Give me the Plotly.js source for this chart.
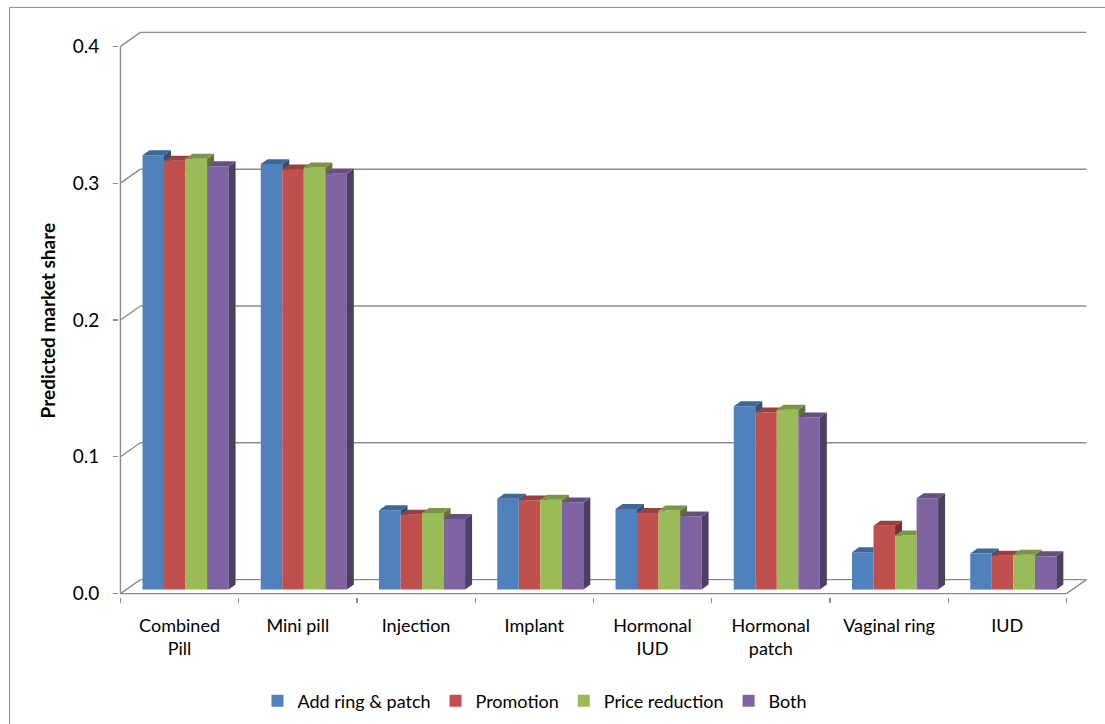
<!DOCTYPE html>
<html>
<head>
<meta charset="utf-8">
<script src="https://cdn.plot.ly/plotly-3.0.1.min.js"></script>
<style>
  html, body { margin: 0; padding: 0; background: #ffffff; }
  #chart { width: 1105px; height: 724px; }
</style>
</head>
<body>
<div id="chart"></div>
<script>
// Contraceptive methods and predicted market share under four scenarios
const categories = ['Combined<br>Pill', 'Mini pill', 'Injection', 'Implant', 'Hormonal<br>IUD', 'Hormonal<br>patch', 'Vaginal ring', 'IUD'];
const seriesNames = ['Add ring & patch', 'Promotion', 'Price reduction', 'Both'];
const addRingPatch   = [0.3175, 0.3110, 0.0580, 0.0664, 0.0589, 0.1340, 0.0273, 0.0263];
const promotion      = [0.3135, 0.3070, 0.0547, 0.0652, 0.0560, 0.1295, 0.0467, 0.0248];
const priceReduction = [0.3150, 0.3085, 0.0560, 0.0657, 0.0579, 0.1314, 0.0396, 0.0255];
const both           = [0.3095, 0.3040, 0.0516, 0.0637, 0.0535, 0.1258, 0.0667, 0.0243];
const yTicks = [0, 0.1, 0.2, 0.3, 0.4];
const yTickText = ['0.0', '0.1', '0.2', '0.3', '0.4'];

const seriesValues = [addRingPatch, promotion, priceReduction, both];
const frontColors = ['#4F81BD', '#C0504D', '#9BBB59', '#8064A2'];

// ---- page geometry (pixels) ----
const W = 1105, H = 724;
const PX_X = 118.33;          // pixels per category
const PX_Y = 1370;            // pixels per unit of market share
const X0PIX = 120, Y0PIX = 594; // front-left floor corner
const X_RANGE = [-0.012, 8.25];
const Y_RANGE = [-0.0025, 0.42];
const PL = X0PIX + X_RANGE[0] * PX_X;
const PW = (X_RANGE[1] - X_RANGE[0]) * PX_X;
const PB = Y0PIX - Y_RANGE[0] * PX_Y;
const PH = (Y_RANGE[1] - Y_RANGE[0]) * PX_Y;
const pxX = p => (p - PL) / PW;
const pxY = p => (PB - p) / PH;

// ---- oblique depth offsets, expressed in axis units ----
const wallDx = 20 / PX_X, wallDy = 14 / PX_Y;     // back wall
const barShift = 6 / PX_X, barBase = 4 / PX_Y;    // bar front plane
const depthDx = 7 / PX_X, depthDy = 5 / PX_Y;     // bar depth
const barWidth = 0.182;
const groupWidth = barWidth * seriesValues.length;
const nCat = categories.length;

function shade(hex, f) {
  const n = parseInt(hex.slice(1), 16);
  const r = Math.round(((n >> 16) & 255) * f);
  const g = Math.round(((n >> 8) & 255) * f);
  const b = Math.round((n & 255) * f);
  return 'rgb(' + r + ',' + g + ',' + b + ')';
}

// Sutherland-Hodgman clip of a polygon against one half-plane
function clipPoly(poly, inside, cross) {
  const out = [];
  for (let k = 0; k < poly.length; k++) {
    const a = poly[k], b = poly[(k + 1) % poly.length];
    const ia = inside(a), ib = inside(b);
    if (ia) out.push(a);
    if (ia !== ib) out.push(cross(a, b));
  }
  return out;
}
function clipXmax(poly, X) {
  return clipPoly(poly, p => p[0] <= X + 1e-9, (a, b) => {
    const t = (X - a[0]) / (b[0] - a[0]);
    return [X, a[1] + t * (b[1] - a[1])];
  });
}
function clipYmin(poly, Y) {
  return clipPoly(poly, p => p[1] >= Y - 1e-9, (a, b) => {
    const t = (Y - a[1]) / (b[1] - a[1]);
    return [a[0] + t * (b[0] - a[0]), Y];
  });
}
function area(poly) {
  let s = 0;
  for (let k = 0; k < poly.length; k++) {
    const a = poly[k], b = poly[(k + 1) % poly.length];
    s += a[0] * b[1] - b[0] * a[1];
  }
  return Math.abs(s / 2);
}
function appendPoly(acc, poly) {
  if (poly.length < 3 || area(poly) < 1e-7) return;
  poly.forEach(p => { acc.x.push(p[0]); acc.y.push(p[1]); });
  acc.x.push(poly[0][0]); acc.y.push(poly[0][1]);
  acc.x.push(null); acc.y.push(null);
}
// visible part of a face once the next bar's front face is placed over it
function appendVisible(acc, poly, R, nextTop) {
  if (nextTop === null) { appendPoly(acc, poly); return; }
  appendPoly(acc, clipXmax(poly, R));
  appendPoly(acc, clipYmin(poly, nextTop));
}

const barTraces = [], sideTraces = [], topTraces = [];
seriesValues.forEach((vals, s) => {
  const xs = [];
  const side = { x: [], y: [] }, top = { x: [], y: [] };
  vals.forEach((v, i) => {
    const xc = i + 0.5 + barShift - groupWidth / 2 + (s + 0.5) * barWidth;
    xs.push(xc);
    const L = xc - barWidth / 2, R = xc + barWidth / 2;
    const T = barBase + v;
    const nextTop = s < seriesValues.length - 1 ? barBase + seriesValues[s + 1][i] : null;
    const topPoly = [[L, T], [R, T], [R + depthDx, T + depthDy], [L + depthDx, T + depthDy]];
    const sidePoly = [[R, barBase], [R, T], [R + depthDx, T + depthDy], [R + depthDx, barBase + depthDy]];
    appendVisible(top, topPoly, R, nextTop);
    appendVisible(side, sidePoly, R, nextTop);
  });
  barTraces.push({
    type: 'bar', name: seriesNames[s], x: xs, y: vals, base: barBase, width: barWidth,
    marker: { color: frontColors[s], line: { width: 0 } }, hoverinfo: 'skip'
  });
  sideTraces.push({
    type: 'scatter', mode: 'lines', x: side.x, y: side.y, fill: 'toself', connectgaps: false,
    fillcolor: shade(frontColors[s], 0.62), line: { width: 0 }, showlegend: false, hoverinfo: 'skip'
  });
  topTraces.push({
    type: 'scatter', mode: 'lines', x: top.x, y: top.y, fill: 'toself', connectgaps: false,
    fillcolor: shade(frontColors[s], 0.8), line: { width: 0 }, showlegend: false, hoverinfo: 'skip'
  });
});

// ---- walls, floor and axis lines ----
const gridColor = '#8c8c8c';
const shapes = [];
const line = (x0, y0, x1, y1) => ({
  type: 'line', xref: 'x', yref: 'y', x0, y0, x1, y1, layer: 'below',
  line: { color: gridColor, width: 1.4 }
});
yTicks.forEach(v => {
  shapes.push(line(wallDx, v + wallDy, nCat + wallDx, v + wallDy));   // back wall gridline
  shapes.push(line(0, v, wallDx, v + wallDy));                        // side wall diagonal
});
shapes.push(line(0, 0, 0, yTicks[yTicks.length - 1]));                 // front value axis
shapes.push(line(0, 0, nCat, 0));                                       // front floor edge
shapes.push(line(nCat, 0, nCat + wallDx, wallDy));                     // right floor edge
// outer chart border
shapes.push({
  type: 'rect', xref: 'paper', yref: 'paper', layer: 'below',
  x0: pxX(9), y0: pxY(H + 10), x1: pxX(W + 10), y1: pxY(7),
  line: { color: '#8a8a8a', width: 1 }, fillcolor: 'rgba(0,0,0,0)'
});

const FONT = 'Lato, "Open Sans", sans-serif';
const layout = {
  width: W, height: H, autosize: false,
  paper_bgcolor: '#ffffff', plot_bgcolor: 'rgba(0,0,0,0)',
  margin: { l: PL, r: W - PL - PW, t: PB - PH, b: H - PB, pad: 0 },
  barmode: 'overlay',
  showlegend: true,
  font: { family: FONT, color: '#000000' },
  xaxis: {
    range: X_RANGE, fixedrange: true,
    tickmode: 'array', tickvals: categories.map((c, i) => i + 0.5), ticktext: categories,
    ticks: '', showgrid: false, zeroline: false, showline: false,
    tickfont: { family: FONT, size: 18, color: '#000000' },
    ticklabelstandoff: 16,
    minor: { tickmode: 'array', tickvals: categories.map((c, i) => i).concat([nCat]),
             ticks: 'outside', ticklen: 5, tickwidth: 1.3, tickcolor: gridColor, showgrid: false }
  },
  yaxis: {
    range: Y_RANGE, fixedrange: true,
    tickmode: 'array', tickvals: yTicks, ticktext: yTickText,
    ticks: 'outside', ticklen: 5, tickwidth: 1.3, tickcolor: gridColor,
    showgrid: false, zeroline: false, showline: false,
    tickfont: { family: FONT, size: 19, color: '#000000' },
    ticklabelstandoff: 10
  },
  legend: {
    orientation: 'h', xref: 'container', yref: 'container',
    x: 535 / W, xanchor: 'center', y: 1 - 701 / H, yanchor: 'middle',
    font: { family: FONT, size: 18, color: '#000000' },
    bgcolor: 'rgba(0,0,0,0)', traceorder: 'normal'
  },
  annotations: [{
    text: '<b>Predicted market share</b>', textangle: -90, showarrow: false,
    xref: 'paper', yref: 'paper', x: pxX(48), y: pxY(320), xanchor: 'center', yanchor: 'middle',
    font: { family: FONT, size: 19, color: '#000000' }
  }],
  shapes: shapes
};

Plotly.newPlot('chart', barTraces.concat(sideTraces, topTraces), layout, { displayModeBar: false, staticPlot: true });
</script>
</body>
</html>
